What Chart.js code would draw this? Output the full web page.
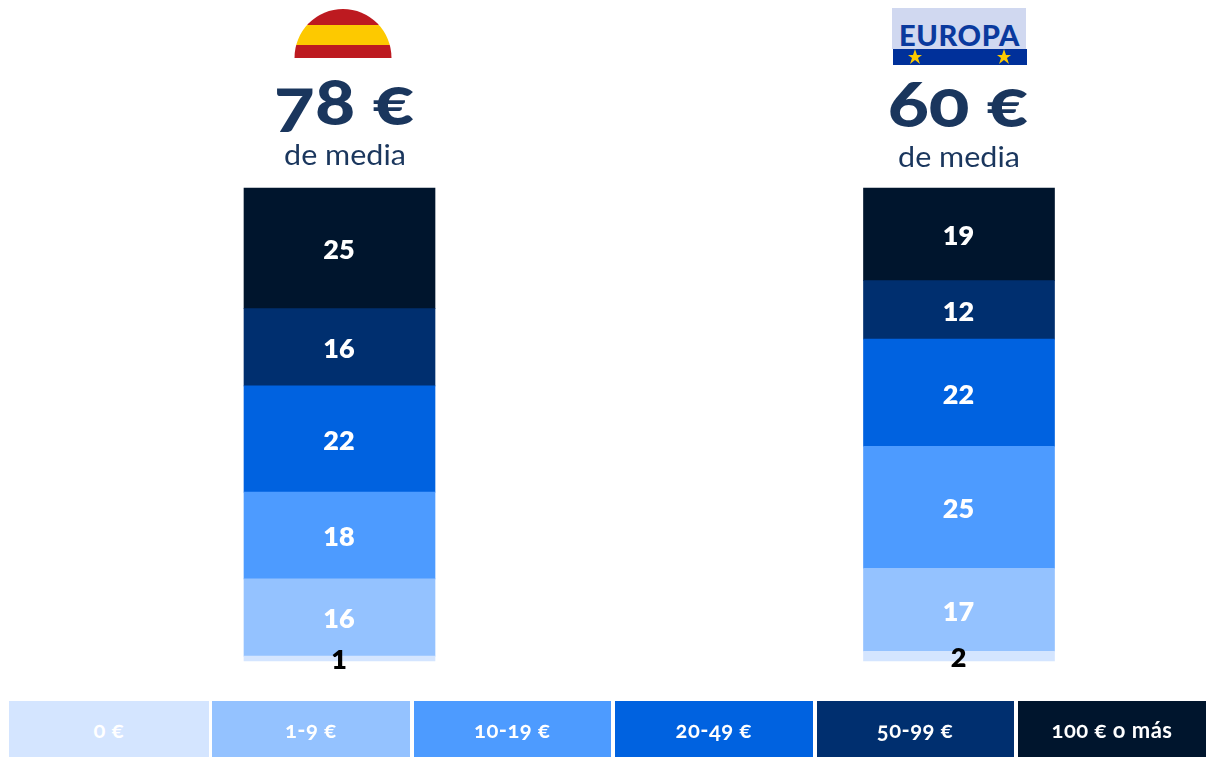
<!DOCTYPE html>
<html lang="es">
<head>
<meta charset="utf-8">
<title>Gasto medio</title>
<script src="https://cdn.jsdelivr.net/npm/chart.js@4/dist/chart.umd.min.js"></script>
<style>
  html, body { margin: 0; padding: 0; background: #fff; }
  #wrap { position: relative; width: 1206px; height: 757px; overflow: hidden; font-family: Lato, sans-serif; }
  #wrap canvas { position: absolute; left: 0; top: 0; }
  .amount, .sub { position: absolute; text-align: center; color: #1a365d; white-space: nowrap; font-feature-settings: "onum"; }
  .amount { font-size: 65px; font-weight: 900; width: 300px; height: 58px; line-height: 58px; transform: scaleX(1.16); }
  .sub { font-size: 28px; font-weight: 400; width: 300px; height: 30px; line-height: 30px; transform: scaleX(1.09); }
  .flag { position: absolute; left: 0; top: 0; }
  .key { position: absolute; top: 701px; height: 56px; line-height: 58px; text-align: center; color: #fff; font-size: 22px; font-weight: 700; letter-spacing: 0.5px; font-feature-settings: "onum"; }
</style>
</head>
<body>
<div id="wrap">
  <canvas id="myChart" width="1206" height="757"></canvas>
  <svg class="flag" width="1206" height="70">
    <defs><clipPath id="dome"><ellipse cx="343" cy="58" rx="48.5" ry="49"/></clipPath></defs>
    <g clip-path="url(#dome)">
      <rect x="290" y="9" width="106" height="16" fill="#bd1a20"/>
      <rect x="290" y="25" width="106" height="20" fill="#fdc900"/>
      <rect x="290" y="45" width="106" height="13" fill="#bd1a20"/>
    </g>
    <rect x="892" y="8" width="134" height="41" fill="#d0d8f0"/>
    <rect x="893" y="49" width="134" height="16" fill="#00309a"/>
    <text x="959.5" y="46" text-anchor="middle" font-family="Lato" font-weight="900" font-size="29" letter-spacing="0.6" fill="#0a3a9e">EUROPA</text>
    <polygon points="915,49 917,55 922,55 918,58 920,64 915,60 910,64 912,58 908,55 913,55" fill="#fdc900"/>
    <polygon points="1004,49 1006,55 1011,55 1007,58 1009,64 1004,60 999,64 1001,58 997,55 1002,55" fill="#fdc900"/>
  </svg>
  <div class="amount" style="left:194px;top:71px">78 €</div>
  <div class="sub" style="left:195px;top:139px">de media</div>
  <div class="amount" style="left:808px;top:73px">60 €</div>
  <div class="sub" style="left:809px;top:141px">de media</div>
  <div id="legend"></div>
</div>
<script>
// Chart data
const categories = ["España", "Europa"];
const rangeLabels = ["0 €", "1-9 €", "10-19 €", "20-49 €", "50-99 €", "100 € o más"];
const spainValues = [1, 16, 18, 22, 16, 25];
const europeValues = [2, 17, 25, 22, 12, 19];
const rangeColors = ["#d4e5ff", "#94c2ff", "#4d9bff", "#0062e0", "#002f6f", "#00152d"];

// The bars fill the same height even though the rounded values don't add to 100
const toShare = (values, i) => values[i] / values.reduce((a, b) => a + b, 0) * 100;

const datasets = rangeLabels.map((label, i) => ({
  label: label,
  data: [toShare(spainValues, i), toShare(europeValues, i)],
  rawValues: [spainValues[i], europeValues[i]],
  backgroundColor: rangeColors[i],
  barThickness: 191,
  clip: false
}));

// Numbers inside the bars
const barLabels = {
  id: "barLabels",
  afterDatasetsDraw(chart) {
    const ctx = chart.ctx;
    ctx.save();
    ctx.font = "800 27px Lato";
    ctx.textAlign = "center";
    ctx.textBaseline = "middle";
    chart.data.datasets.forEach((ds, i) => {
      chart.getDatasetMeta(i).data.forEach((bar, j) => {
        const center = bar.getCenterPoint();
        ctx.fillStyle = i === 0 ? "#000" : "#fff";
        ctx.fillText(ds.rawValues[j], center.x - 0.5, center.y + 2);
      });
    });
    ctx.restore();
  }
};

new Chart(document.getElementById("myChart"), {
  type: "bar",
  data: { labels: categories, datasets: datasets },
  options: {
    responsive: false,
    animation: false,
    layout: { padding: { left: 339.5, right: 247, top: 188, bottom: 96 } },
    plugins: { legend: { display: false }, tooltip: { enabled: false } },
    scales: {
      x: { stacked: true, offset: false, display: false },
      y: { stacked: true, min: 0, max: 100, display: false }
    }
  },
  plugins: [barLabels]
});

// Legend strip under the chart
const keyEdges = [[9, 208.5], [212, 409.5], [413.5, 611], [615, 812.5], [816.5, 1013.5], [1018, 1206]];
const legendEl = document.getElementById("legend");
rangeLabels.forEach((label, i) => {
  const key = document.createElement("div");
  key.className = "key";
  key.style.left = keyEdges[i][0] + "px";
  key.style.width = (keyEdges[i][1] - keyEdges[i][0]) + "px";
  key.style.background = rangeColors[i];
  key.textContent = label;
  legendEl.appendChild(key);
});
</script>
</body>
</html>
